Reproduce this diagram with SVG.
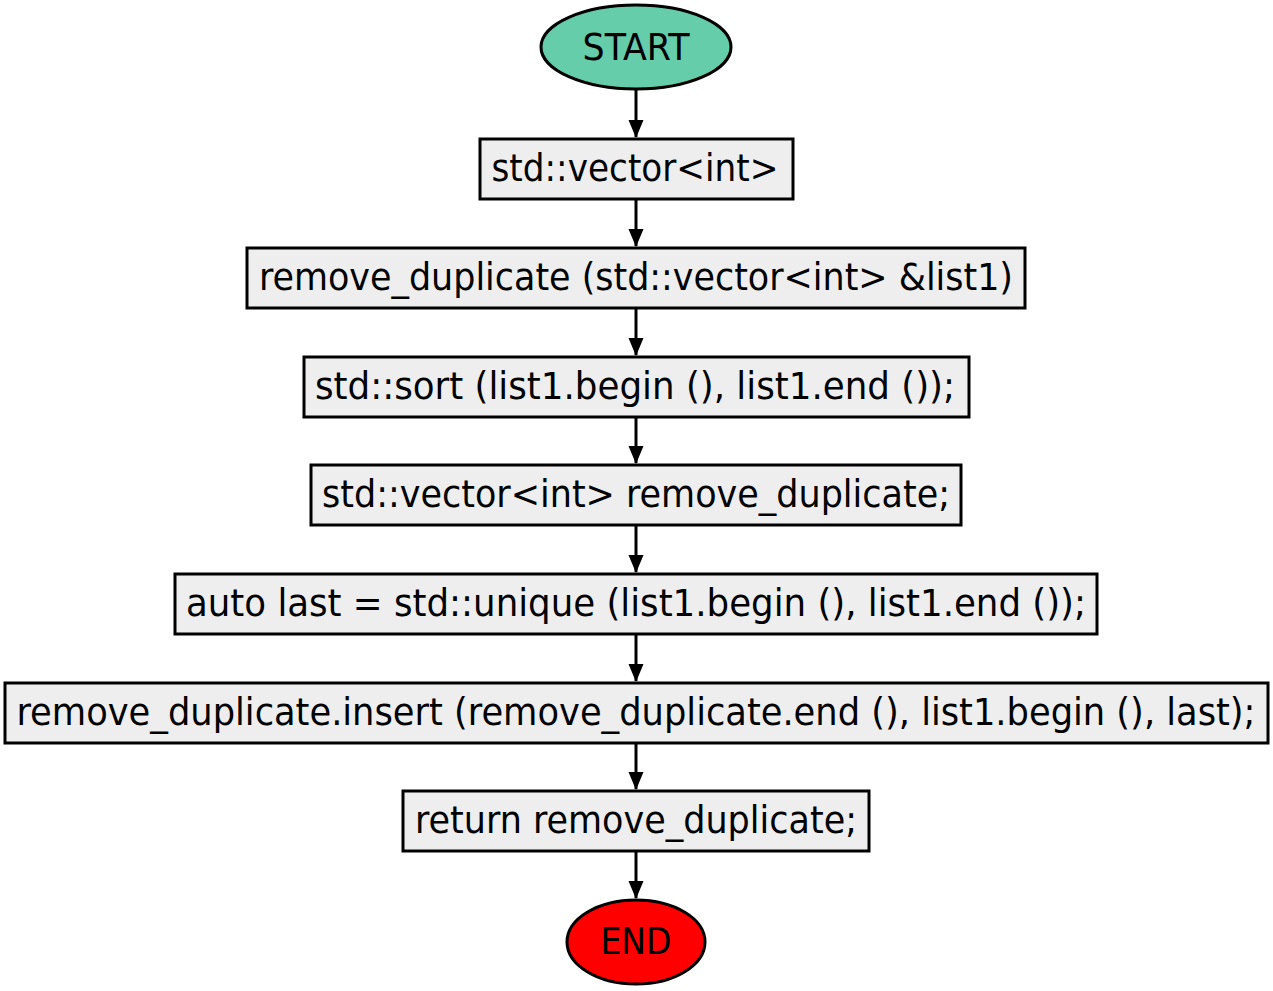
<svg xmlns="http://www.w3.org/2000/svg" width="1273" height="991" viewBox="0 0 1273 991">
<style>
.n{fill:#eeeeee;stroke:#000;stroke-width:3}
.t{font-family:"DejaVu Sans Condensed","DejaVu Sans","Liberation Sans",sans-serif;font-size:37px;fill:#000;text-anchor:middle}
.e{stroke:#000;stroke-width:3;fill:none}
</style>
<defs>
<marker id="ah" markerUnits="userSpaceOnUse" markerWidth="18" markerHeight="20" refX="17" refY="7.5" orient="auto" viewBox="0 0 18 15">
<polygon points="0,0 18,7.5 0,15" fill="#000"/>
</marker>
</defs>
<rect width="1273" height="991" fill="#fff"/>
<g id="connectors">
<path class="e" d="M636,90 V137" marker-end="url(#ah)"/>
<path class="e" d="M636,200 V246" marker-end="url(#ah)"/>
<path class="e" d="M636,309 V355" marker-end="url(#ah)"/>
<path class="e" d="M636,418 V463" marker-end="url(#ah)"/>
<path class="e" d="M636,526 V572" marker-end="url(#ah)"/>
<path class="e" d="M636,635 V681" marker-end="url(#ah)"/>
<path class="e" d="M636,744 V789" marker-end="url(#ah)"/>
<path class="e" d="M636,852 V898" marker-end="url(#ah)"/>
</g>
<g id="start">
<ellipse cx="636" cy="47" rx="95" ry="42" fill="#66cdaa" stroke="#000" stroke-width="3"/>
<text class="t" x="636" y="60" textLength="107" lengthAdjust="spacingAndGlyphs">START</text>
</g>
<g id="n1">
<rect class="n" x="480" y="139" width="313" height="60"/>
<text class="t" x="635" y="181" textLength="287" lengthAdjust="spacingAndGlyphs">std::vector&lt;int&gt;</text>
</g>
<g id="n2">
<rect class="n" x="247" y="248" width="778" height="60"/>
<text class="t" x="636" y="290" textLength="754" lengthAdjust="spacingAndGlyphs">remove_duplicate (std::vector&lt;int&gt; &amp;list1)</text>
</g>
<g id="n3">
<rect class="n" x="304" y="357" width="665" height="60"/>
<text class="t" x="635" y="399" textLength="640" lengthAdjust="spacingAndGlyphs">std::sort (list1.begin (), list1.end ());</text>
</g>
<g id="n4">
<rect class="n" x="311" y="465" width="650" height="60"/>
<text class="t" x="636" y="507" textLength="628" lengthAdjust="spacingAndGlyphs">std::vector&lt;int&gt; remove_duplicate;</text>
</g>
<g id="n5">
<rect class="n" x="175" y="574" width="922" height="60"/>
<text class="t" x="636" y="616" textLength="900" lengthAdjust="spacingAndGlyphs">auto last = std::unique (list1.begin (), list1.end ());</text>
</g>
<g id="n6">
<rect class="n" x="5" y="683" width="1263" height="60"/>
<text class="t" x="636" y="725" textLength="1239" lengthAdjust="spacingAndGlyphs">remove_duplicate.insert (remove_duplicate.end (), list1.begin (), last);</text>
</g>
<g id="n7">
<rect class="n" x="403" y="791" width="466" height="60"/>
<text class="t" x="636" y="833" textLength="442" lengthAdjust="spacingAndGlyphs">return remove_duplicate;</text>
</g>
<g id="end">
<ellipse cx="636" cy="942" rx="69" ry="42" fill="#ff0000" stroke="#000" stroke-width="3"/>
<text class="t" x="636" y="954" textLength="71" lengthAdjust="spacingAndGlyphs">END</text>
</g>
</svg>
